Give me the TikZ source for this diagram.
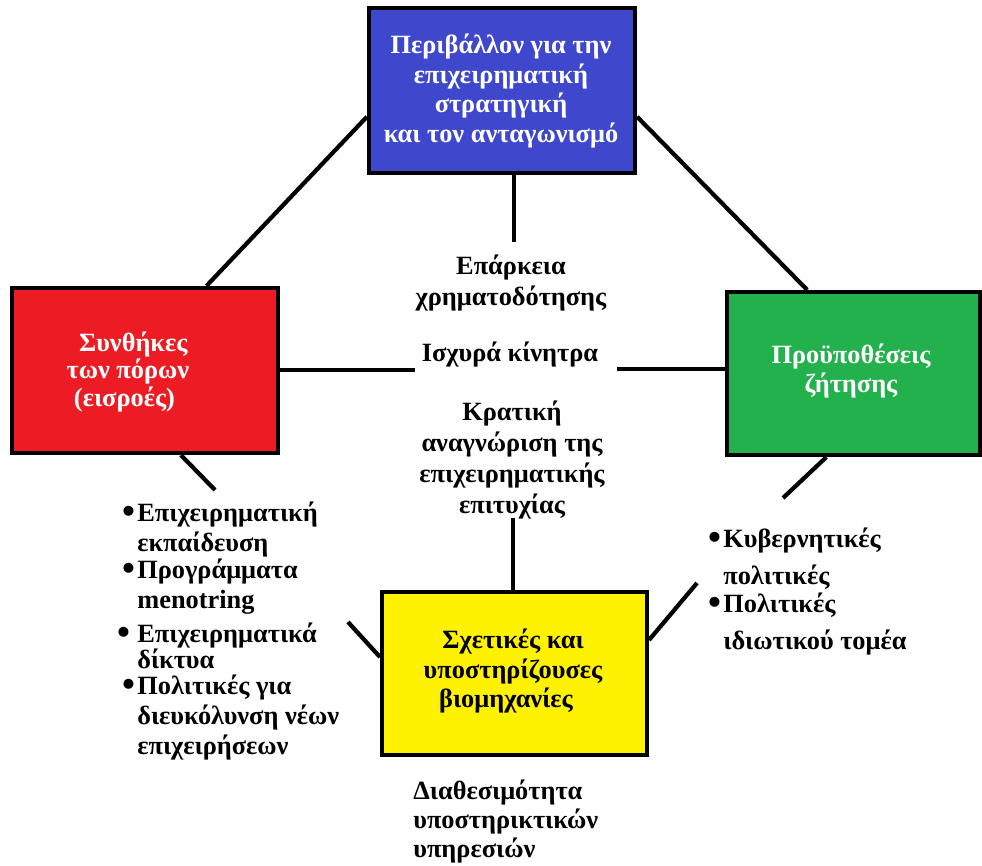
\documentclass[tikz,border=0pt]{standalone}
\usepackage{fontspec}
\setmainfont{Liberation Serif}
\usetikzlibrary{calc}
\definecolor{envblue}{RGB}{63,72,204}
\definecolor{resred}{RGB}{237,28,36}
\definecolor{demgreen}{RGB}{34,177,76}
\definecolor{indyellow}{RGB}{255,242,0}
\newcommand{\itemdot}{\raisebox{-1.2pt}{\fontsize{21}{21}\selectfont •}}
\begin{document}
\begin{tikzpicture}[x=0.02cm,y=-0.02cm,
  box/.style={draw=black, line width=2.4pt, inner sep=0pt},
  link/.style={draw=black, line width=2.4pt},
  boxtext/.style={align=center, inner sep=0pt, font=\fontsize{15}{17}\selectfont\bfseries},
  midtext/.style={align=center, inner sep=0pt, font=\fontsize{15}{17.5}\selectfont\bfseries},
  listtext/.style={align=left, inner sep=0pt, anchor=base west, font=\fontsize{15}{17}\selectfont\bfseries},
]
\fill[white] (0,0) rectangle (982,865);
\useasboundingbox (0,0) rectangle (982,865);

% the four boxes
\node[box, fill=envblue, minimum width=5.32cm, minimum height=3.30cm] (env) at (502,90.5) {};
\node[box, fill=resred, minimum width=5.32cm, minimum height=3.30cm] (res) at (145,370.5) {};
\node[box, fill=demgreen, minimum width=5.06cm, minimum height=3.26cm] (dem) at (853.5,373.5) {};
\node[box, fill=indyellow, minimum width=5.30cm, minimum height=3.26cm] (ind) at (514.5,673.5) {};

% box labels
\node[boxtext, text=white] (envlabel) at (501,91) {Περιβάλλον για την\\επιχειρηματική\hspace*{6pt}\\στρατηγική\hspace*{9pt}\\και τον ανταγωνισμό};
\node[boxtext, text=white, font=\fontsize{15}{15.6}\selectfont\bfseries] (reslabel) at (128,372) {\hspace*{6pt}Συνθήκες\\των πόρων\\(εισροές)\hspace*{4pt}};
\node[boxtext, text=white] (demlabel) at (851,371) {Προϋποθέσεις\\ζήτησης};
\node[boxtext, text=black] (indlabel) at (513,671) {Σχετικές και\\υποστηρίζουσες\\βιομηχανίες\hspace*{8pt}};

% texts in the middle
\node[midtext] (finance) at (511,283) {Επάρκεια\\χρηματοδότησης};
\node[midtext] (incent) at (510,355) {Ισχυρά κίνητρα};
\node[midtext] (recog) at (512,460) {Κρατική\\αναγνώριση της\\επιχειρηματικής\\επιτυχίας};

% free ends of the short connectors
\coordinate (topstub) at (513,242);
\coordinate (botstub) at (513,518);
\coordinate (leftmid) at (415,370);
\coordinate (rightmid) at (617,369);
\coordinate (resstub) at (215,490);
\coordinate (indleft) at (348,622);
\coordinate (demstub) at (783,498);
\coordinate (indright) at (697,583);

% connectors
\draw[link] (env.191) -- (res.54);
\draw[link] (env.349) -- (dem.119);
\draw[link] (env.278) -- (env.278 |- topstub);
\draw[link] (res.east |- leftmid) -- (leftmid);
\draw[link] (rightmid) -- (rightmid -| dem.west);
\draw[link] (botstub) -- (botstub |- ind.north);
\draw[link] (res.293) -- (resstub);
\draw[link] (ind.173) -- (indleft);
\draw[link] (dem.252) -- (demstub);
\draw[link] (ind.14) -- (indright);

% resource list (anchored at the baseline of the last line)
\node[listtext] (edu) at (137,551) {\llap{\itemdot\hspace{1pt}}Επιχειρηματική\\εκπαίδευση};
\node[listtext] (ment) at (137,608) {\llap{\itemdot\hspace{1pt}}Προγράμματα\\menotring};
\node[listtext, font=\fontsize{15}{14.5}\selectfont\bfseries] (nets) at (137,668) {\llap{\itemdot\hspace{4pt}}Επιχειρηματικά\\δίκτυα};
\node[listtext] (pol) at (137,754) {\llap{\itemdot\hspace{1pt}}Πολιτικές για\\διευκόλυνση νέων\\επιχειρήσεων};

% demand list
\node[listtext, font=\fontsize{15}{21}\selectfont\bfseries] (gov) at (723,584) {\llap{\itemdot\hspace{1pt}}Κυβερνητικές\\πολιτικές};
\node[listtext, font=\fontsize{15}{21}\selectfont\bfseries] (priv) at (723,649) {\llap{\itemdot\hspace{1pt}}Πολιτικές\\ιδιωτικού τομέα};

% services
\node[listtext, font=\fontsize{15}{16.5}\selectfont\bfseries] (serv) at (413,857) {Διαθεσιμότητα\\υποστηρικτικών\\υπηρεσιών};
\end{tikzpicture}
\end{document}
